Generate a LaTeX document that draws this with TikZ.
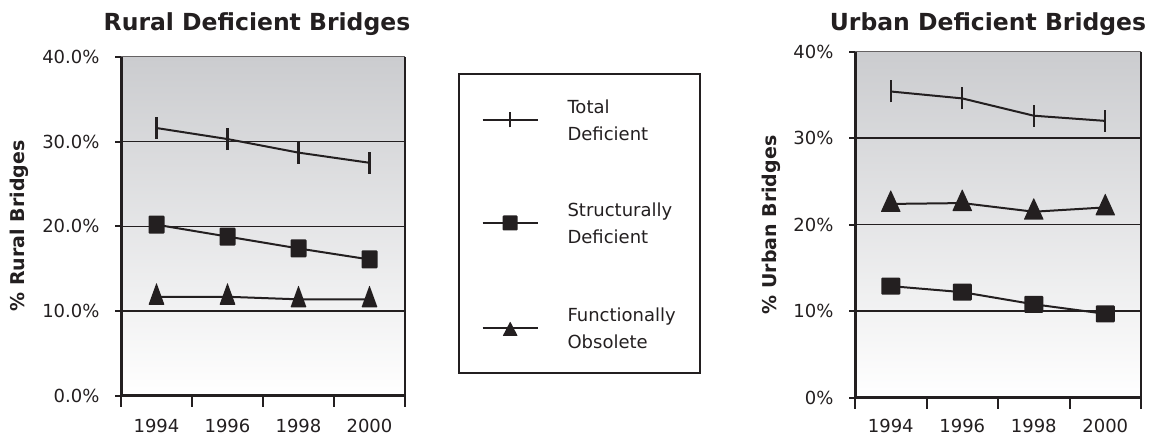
\documentclass[tikz,border=0pt]{standalone}
\usepackage{fontspec}
\setmainfont{DejaVu Sans}
\usetikzlibrary{positioning,calc}
\definecolor{ink}{RGB}{35,31,32}
\definecolor{shadetop}{RGB}{203,204,207}

\begin{document}
\begin{tikzpicture}[x=1pt,y=1pt,
  every node/.style={text=ink,font=\fontsize{18}{27}\selectfont},
  title/.style={font=\bfseries\fontsize{23.5}{28}\selectfont,anchor=base},
  ylab/.style={font=\bfseries\fontsize{19}{23}\selectfont,rotate=90},
  axis/.style={draw=ink,line width=3pt},
  tick/.style={draw=ink,line width=2pt},
  grid/.style={draw=ink,line width=1.6pt},
  series/.style={draw=ink,line width=2pt},
  sqmark/.style={fill=ink,minimum size=17pt,inner sep=0pt,rounded corners=1pt},
  bar/.pic={\draw[ink,line width=2.2pt] (0,-11) -- (0,11);},
  tri/.pic={\fill[ink,rounded corners=0.6pt] (-8,-8) -- (8,-8) -- (0,14) -- cycle;}]
  \useasboundingbox (0,0) rectangle (1151,439);

  % rural chart
  \begin{scope}[shift={(121,43)}]
    \shade[top color=shadetop,bottom color=white] (0,0) rectangle (284,339.2);
    \foreach \p in {10,20,30}
      \draw[grid] (0,{8.48*\p}) -- (284,{8.48*\p});
    \draw[ink!70,line width=1pt] (0,339.2) -- (284,339.2);
    \draw[ink,line width=2.5pt] (284,0) -- (284,339.2);
    \draw[axis] (0,339.2) -- (0,0) -- (284,0);
    \foreach \p/\t in {0/0.0,10/10.0,20/20.0,30/30.0,40/40.0} {
      \draw[tick] (-6,{8.48*\p}) -- (0,{8.48*\p});
      \node[anchor=east] (ry\p) at (-18,{8.48*\p}) {\t\%};
    }
    \foreach \i in {0,...,4}
      \draw[tick] ({71*\i},0) -- ({71*\i},-11);
    \foreach \yr [count=\i] in {1994,1996,1998,2000}
      \node[anchor=base] (rx\i) at ({71*\i-35.5},-37) {\yr};

    \foreach \v [count=\i] in {31.6,30.3,28.7,27.5}
      \coordinate (rt\i) at ({71*\i-35.5},{8.48*\v});
    \foreach \v [count=\i] in {20.2,18.8,17.4,16.1}
      \coordinate (rs\i) at ({71*\i-35.5},{8.48*\v});
    \foreach \v [count=\i] in {11.7,11.7,11.4,11.4}
      \coordinate (rf\i) at ({71*\i-35.5},{8.48*\v});
    \draw[series] (rt1) -- (rt2) -- (rt3) -- (rt4);
    \draw[series] (rs1) -- (rs2) -- (rs3) -- (rs4);
    \draw[series] (rf1) -- (rf2) -- (rf3) -- (rf4);
    \foreach \i in {1,...,4} {
      \pic at (rt\i) {bar};
      \node[sqmark,minimum width=16pt,minimum height=18pt] (rsq\i) at (rs\i) {};
      \pic at (rf\i) {tri};
    }

    \node[title] (rtitle) at (136,365.3) {Rural Deficient Bridges};
    \node[ylab] (rylab) at (-102,170) {\% Rural Bridges};
  \end{scope}

  % legend
  \node[draw=ink,line width=2pt,minimum width=241pt,minimum height=299pt] (legend) at (579.5,215.5) {};
  \coordinate (l1a) at (482.7,319);
  \coordinate (l1b) at (537.7,319);
  \coordinate (l2a) at (482.7,216);
  \coordinate (l2b) at (537.7,216);
  \coordinate (l3a) at (482.7,111);
  \coordinate (l3b) at (537.7,111);
  \draw[series] (l1a) -- (l1b);
  \draw[series] (l2a) -- (l2b);
  \draw[series] (l3a) -- (l3b);
  \draw[ink,line width=2.2pt] ($(l1a)!0.5!(l1b)$) ++(0,-7.5) -- ++(0,15);
  \node[sqmark,minimum size=15pt] (lsq) at ($(l2a)!0.5!(l2b)$) {};
  \fill[ink,rounded corners=0.5pt] ($(l3a)!0.5!(l3b)$) ++(-7.5,-8) -- ++(15,0) -- ++(-7.5,14.5) -- cycle;
  \node[right=26.3pt of l1b,align=left] (l1) {Total\\Deficient};
  \node[right=26.3pt of l2b,align=left] (l2) {Structurally\\Deficient};
  \node[right=26.3pt of l3b,align=left] (l3) {Functionally\\Obsolete};

  % urban chart
  \begin{scope}[shift={(855,41.3)}]
    \shade[top color=shadetop,bottom color=white] (0,0) rectangle (286,346);
    \foreach \p in {10,20,30}
      \draw[grid] (0,{8.65*\p}) -- (286,{8.65*\p});
    \draw[ink!70,line width=1pt] (0,346) -- (286,346);
    \draw[ink,line width=2.5pt] (286,0) -- (286,346);
    \draw[axis] (0,346) -- (0,0) -- (286,0);
    \foreach \p in {0,10,20,30,40} {
      \draw[tick] (-6,{8.65*\p}) -- (0,{8.65*\p});
      \node[anchor=east] (uy\p) at (-18,{8.65*\p}) {\p\%};
    }
    \foreach \i in {0,...,4}
      \draw[tick] ({71.5*\i},0) -- ({71.5*\i},-11);
    \foreach \yr [count=\i] in {1994,1996,1998,2000}
      \node[anchor=base] (ux\i) at ({71.5*\i-35.75},-35.3) {\yr};

    \foreach \v [count=\i] in {35.4,34.6,32.6,32.0}
      \coordinate (ut\i) at ({71.5*\i-35.75},{8.65*\v});
    \foreach \v [count=\i] in {12.9,12.2,10.8,9.7}
      \coordinate (us\i) at ({71.5*\i-35.75},{8.65*\v});
    \foreach \v [count=\i] in {22.4,22.5,21.5,22.0}
      \coordinate (uf\i) at ({71.5*\i-35.75},{8.65*\v});
    \draw[series] (ut1) -- (ut2) -- (ut3) -- (ut4);
    \draw[series] (us1) -- (us2) -- (us3) -- (us4);
    \draw[series] (uf1) -- (uf2) -- (uf3) -- (uf4);
    \foreach \i in {1,...,4} {
      \pic at (ut\i) {bar};
      \node[sqmark,minimum width=19pt,minimum height=17pt] (usq\i) at (us\i) {};
      \pic[xscale=1.25] at (uf\i) {tri};
    }

    \node[title] (utitle) at (133,367) {Urban Deficient Bridges};
    \node[ylab] (uylab) at (-83.3,172.7) {\% Urban Bridges};
  \end{scope}
\end{tikzpicture}
\end{document}
